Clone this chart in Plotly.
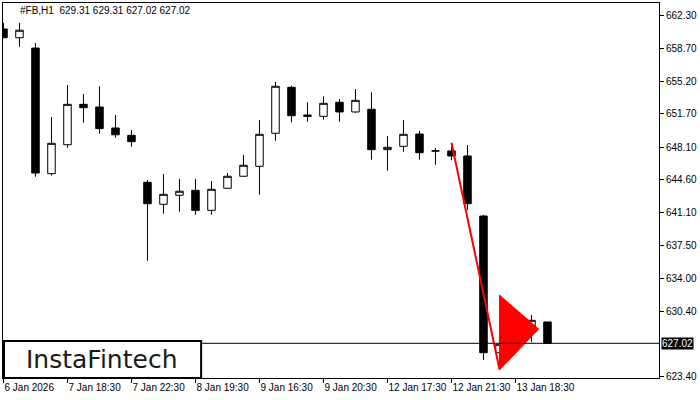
import plotly.graph_objects as go

symbol_title = "#FB,H1  629.31 629.31 627.02 627.02"
bar_index = list(range(35))
opens = [660.80, 659.86, 658.75, 645.25, 648.36, 652.70, 652.41, 650.16, 649.37, 644.32,
         641.96, 642.93, 643.46, 641.31, 643.68, 644.97, 646.04, 649.59, 654.53, 651.55,
         651.41, 652.92, 651.88, 652.17, 647.83, 648.19, 649.51, 647.69, 647.69, 647.15,
         640.70, 626.01, 626.91, 628.75, 629.31]
highs = [661.47, 661.47, 659.29, 651.34, 654.78, 653.81, 654.64, 651.55, 649.94, 644.57,
         645.21, 644.68, 644.68, 644.46, 645.32, 647.26, 651.02, 655.10, 654.70, 652.92,
         653.56, 653.27, 654.35, 653.99, 649.30, 651.02, 649.83, 648.01, 648.15, 648.33,
         640.81, 627.81, 630.49, 630.06, 629.31]
lows = [659.80, 658.89, 644.92, 645.04, 648.04, 650.73, 649.54, 649.11, 648.15, 635.90,
        640.95, 641.16, 640.84, 640.84, 643.60, 644.90, 642.99, 648.79, 650.77, 650.83,
        651.05, 650.83, 651.80, 646.75, 645.57, 647.61, 646.75, 646.21, 646.72, 641.35,
        625.23, 624.40, 626.48, 627.13, 627.02]
closes = [659.86, 660.66, 645.32, 648.51, 652.70, 652.34, 650.09, 649.43, 648.69, 642.02,
          643.03, 643.36, 641.31, 643.57, 644.97, 646.15, 649.48, 654.64, 651.48, 651.41,
          652.81, 651.88, 653.13, 647.83, 648.08, 649.48, 647.50, 647.69, 647.15, 642.02,
          626.01, 626.91, 628.75, 629.49, 627.02]

tick_index = [0, 4, 8, 12, 16, 20, 24, 28, 32]
tick_labels = ["6 Jan 2026", "7 Jan 18:30", "7 Jan 22:30", "8 Jan 19:30", "9 Jan 16:30",
               "9 Jan 20:30", "12 Jan 17:30", "12 Jan 21:30", "13 Jan 18:30"]
price_ticks = [662.30, 658.70, 655.20, 651.70, 648.10, 644.60, 641.10, 637.50, 634.00, 630.40, 623.40]
last_price = 627.02

pole_x = [28, 31]
pole_y = [648.58, 624.23]
flag_x = [31, 31, 33.45, 31]
flag_y = [632.20, 624.15, 628.55, 632.20]

FONT = "Liberation Sans, Arial, sans-serif"

fig = go.Figure()

fig.add_trace(go.Scatter(x=flag_x, y=flag_y, mode="lines", fill="toself",
                         fillcolor="#ff0000", line=dict(color="#ff0000", width=1),
                         hoverinfo="skip", showlegend=False))

fig.add_trace(go.Candlestick(
    x=bar_index, open=opens, high=highs, low=lows, close=closes,
    increasing=dict(line=dict(color="black", width=1), fillcolor="white"),
    decreasing=dict(line=dict(color="black", width=1), fillcolor="black"),
    whiskerwidth=0, showlegend=False))

fig.add_trace(go.Scatter(x=pole_x, y=pole_y, mode="lines",
                         line=dict(color="#ff0000", width=2),
                         hoverinfo="skip", showlegend=False))

fig.update_layout(
    width=700, height=400,
    margin=dict(l=3, r=41, t=3, b=22, autoexpand=False),
    paper_bgcolor="white", plot_bgcolor="white",
    boxgap=0.33,
    showlegend=False,
    font=dict(family=FONT, size=10, color="black"),
    xaxis=dict(
        range=[-0.03, 40.97],
        rangeslider=dict(visible=False),
        automargin=False,
        showgrid=False, zeroline=False,
        showline=True, mirror=True, linecolor="black", linewidth=1,
        tickmode="array", tickvals=tick_index, ticktext=tick_labels,
        ticks="outside", ticklen=4, tickcolor="black",
        ticklabelposition="outside right", tickangle=0,
        tickfont=dict(family=FONT, size=10, color="black"),
    ),
    yaxis=dict(
        range=[623.29, 663.59],
        side="right",
        automargin=False,
        showgrid=False, zeroline=False,
        showline=True, mirror=True, linecolor="black", linewidth=1,
        tickmode="array", tickvals=price_ticks,
        ticktext=[f"{v:.2f}" for v in price_ticks],
        ticks="outside", ticklen=4, tickcolor="black",
        tickfont=dict(family=FONT, size=10, color="black"),
    ),
)

# current price line
fig.add_shape(type="line", xref="paper", yref="y", x0=0, x1=1,
              y0=last_price, y1=last_price, line=dict(color="black", width=1))

# logo box
fig.add_shape(type="rect", xref="paper", yref="paper", x0=0.0015, x1=0.302, y0=0.0, y1=0.099,
              line=dict(color="black", width=2), fillcolor="white", layer="above")

fig.add_annotation(text="InstaFintech", xref="paper", yref="paper", x=0.151, y=0.05,
                   xanchor="center", yanchor="middle", showarrow=False,
                   font=dict(family="DejaVu Sans, sans-serif", size=25, color="#1a1a1a"))

# current price label
fig.add_annotation(text=f"{last_price:.2f}", xref="paper", yref="y", x=1.003, y=last_price,
                   xanchor="left", yanchor="middle", showarrow=False,
                   bgcolor="black", borderpad=0,
                   font=dict(family=FONT, size=10, color="white"))

# symbol title
fig.add_annotation(text=symbol_title, xref="paper", yref="paper", x=0.023, y=0.979,
                   xanchor="left", yanchor="middle", showarrow=False,
                   font=dict(family=FONT, size=10, color="black"))

fig.write_html("out.html",
               config={"displayModeBar": False},
               post_script="document.body.style.margin='0';document.body.style.overflow='hidden';")
